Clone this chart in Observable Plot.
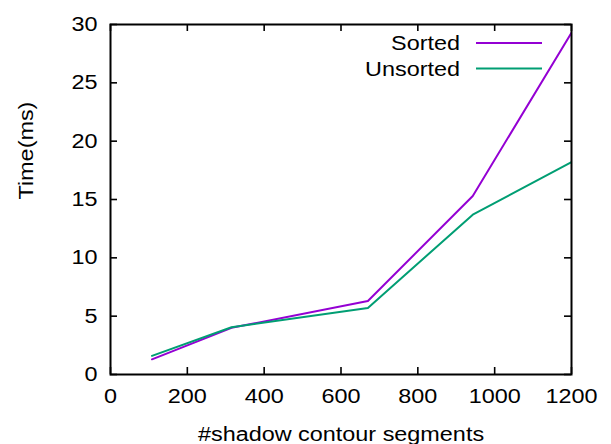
<!DOCTYPE html>
<html>
<head>
<meta charset="utf-8">
<script src="https://cdn.jsdelivr.net/npm/d3@7"></script>
<script src="https://cdn.jsdelivr.net/npm/@observablehq/plot@0.6"></script>
<style>
  html, body { margin: 0; padding: 0; background: #fff; }
  #chart { position: relative; width: 611px; height: 444px; }
  svg { font-family: "Liberation Sans", Arial, sans-serif; }
</style>
</head>
<body>
<div id="chart"></div>
<script>
// ---- data ----
const segments = [108, 315, 670, 943, 1200];
const sortedTime = [1.3, 4.0, 6.3, 15.3, 29.3];
const unsortedTime = [1.6, 4.05, 5.7, 13.7, 18.2];
const seriesNames = ["Sorted", "Unsorted"];
const seriesColors = ["#9400d3", "#009e73"];
const xTicks = [0, 200, 400, 600, 800, 1000, 1200];
const yTicks = [0, 5, 10, 15, 20, 25, 30];
const xLabel = "#shadow contour segments";
const yLabel = "Time(ms)";

// ---- build table ----
const rows = [];
[sortedTime, unsortedTime].forEach((vals, s) => {
  segments.forEach((x, i) => rows.push({series: seriesNames[s], x, y: vals[i]}));
});

const W = 611, H = 444;
const mL = 110, mR = 40, mT = 24, mB = 70;
const pw = W - mL - mR, ph = H - mT - mB;
const tickLen = 7;
const FS = 20;
const STRETCH = 1.17;

const chart = Plot.plot({
  width: W, height: H,
  marginLeft: mL, marginRight: mR, marginTop: mT, marginBottom: mB,
  style: {fontSize: FS + "px", fontFamily: '"Liberation Sans", Arial, sans-serif', color: "#000", background: "#fff"},
  x: {domain: [0, 1200]},
  y: {domain: [0, 30]},
  color: {domain: seriesNames, range: seriesColors},
  marks: [
    Plot.axisX(xTicks, {tickSize: 0, tickPadding: 14, label: null, fontSize: FS, tickFormat: d => String(d)}),
    Plot.axisY(yTicks, {tickSize: 0, tickPadding: 13, label: null, fontSize: FS, tickFormat: d => String(d)}),
    // inward mirrored tick marks
    Plot.tickY(yTicks, {y: d => d, insetRight: pw - tickLen, stroke: "black", strokeWidth: 1.6}),
    Plot.tickY(yTicks, {y: d => d, insetLeft: pw - tickLen, stroke: "black", strokeWidth: 1.6}),
    Plot.tickX(xTicks, {x: d => d, insetTop: ph - tickLen, stroke: "black", strokeWidth: 1.6}),
    Plot.tickX(xTicks, {x: d => d, insetBottom: ph - tickLen, stroke: "black", strokeWidth: 1.6}),
    Plot.line(rows, {x: "x", y: "y", z: "series", stroke: "series", strokeWidth: 2, clip: true}),
    Plot.frame({stroke: "black", strokeWidth: 2}),
    Plot.text([xLabel], {text: d => d, frameAnchor: "bottom", dy: 66, fontSize: FS}),
    Plot.text([yLabel], {text: d => d, frameAnchor: "left", dx: -84, rotate: -90, fontSize: FS})
  ]
});

document.getElementById("chart").appendChild(chart);

// ---- legend (top-right, inside frame) ----
const svg = d3.select(chart);
const leg = svg.append("g").attr("font-size", FS).attr("font-family", '"Liberation Sans", Arial, sans-serif');
seriesNames.forEach((name, i) => {
  const cy = mT + 19 + i * 25.5;
  leg.append("text")
    .attr("x", W - mR - 111).attr("y", cy).attr("dy", "0.35em")
    .attr("text-anchor", "end").attr("fill", "black").text(name);
  leg.append("line")
    .attr("x1", W - mR - 95).attr("x2", W - mR - 29)
    .attr("y1", cy).attr("y2", cy)
    .attr("stroke", seriesColors[i]).attr("stroke-width", 2);
});

// ---- horizontally widen glyphs to match the reference's wide sans ----
chart.querySelectorAll("text").forEach(t => {
  const targets = t.querySelectorAll("tspan").length ? t.querySelectorAll("tspan") : [t];
  targets.forEach(el => {
    const len = el.getComputedTextLength();
    if (len > 0) {
      el.setAttribute("textLength", (len * STRETCH).toFixed(2));
      el.setAttribute("lengthAdjust", "spacingAndGlyphs");
    }
  });
});
</script>
</body>
</html>
